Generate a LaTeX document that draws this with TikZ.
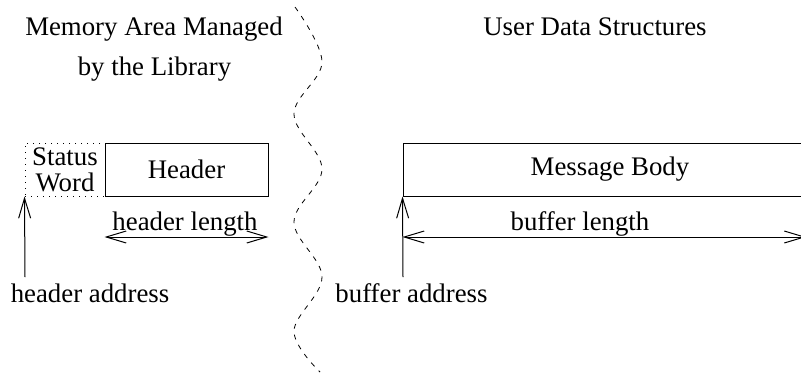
\documentclass[tikz,border=0pt]{standalone}
\usepackage{fontspec}
\setmainfont{Liberation Serif}
\usetikzlibrary{arrows.meta}
\begin{document}
\begin{tikzpicture}[x=1pt,y=-1pt,line width=1pt,
  txt/.style={font=\fontsize{26.8}{26}\selectfont, inner sep=0pt},
  boxnode/.style={draw, txt, minimum height=53pt, inner sep=0pt},
  barb/.style={-{Straight Barb[length=20pt,width=12pt]}},
  barbboth/.style={{Straight Barb[length=20pt,width=12pt]}-{Straight Barb[length=20pt,width=12pt]}},
  divider/.style={dash pattern=on 5pt off 6pt, line width=0.8pt}]
\useasboundingbox (0,0) rectangle (801,383);
\clip (0,0) rectangle (801,383);

% headings
\node[txt, anchor=base] (libtitle1) at (154,35) {Memory Area Managed};
\node[txt, anchor=base] (libtitle2) at (154.5,75) {by the Library};
\node[txt, anchor=base] (usertitle) at (595,35) {User Data Structures};

% wavy divider between the two areas
\draw[divider] plot[smooth, tension=0.6] coordinates
  {(295,7) (322,62) (294,114) (322,169) (294,222) (322,277) (294,331) (320,372)};

% library side
\node[boxnode, dotted, dash pattern=on 1.3pt off 4.7pt, minimum width=80pt,
      align=center] (status) at (65,169.5) {Status\\Word};
\node[boxnode, minimum width=163pt] (header) at (186.5,169.5) {Header};
\draw[barbboth] (header.south west |- 0,237) coordinate (hl1)
  -- (header.south east |- 0,237) coordinate (hl2);
\node[txt, anchor=base] (hlen) at (185,230) {header length};
\coordinate (haddr) at (25,277);
\draw[barb] (haddr) -- (status.south west);
\node[txt, anchor=base] (haddrlbl) at (90,302) {header address};

% user side
\node[boxnode, minimum width=414pt] (body) at (610,169.5) {Message Body};
\coordinate (bl2) at (806,237);
\draw[barbboth] (body.south west |- 0,237) coordinate (bl1) -- (bl2);
\node[txt, anchor=base] (blen) at (580,230) {buffer length};
\coordinate (baddr) at (403,277);
\draw[barb] (baddr) -- (body.south west);
\node[txt, anchor=base] (baddrlbl) at (411.5,302) {buffer address};
\end{tikzpicture}
\end{document}
